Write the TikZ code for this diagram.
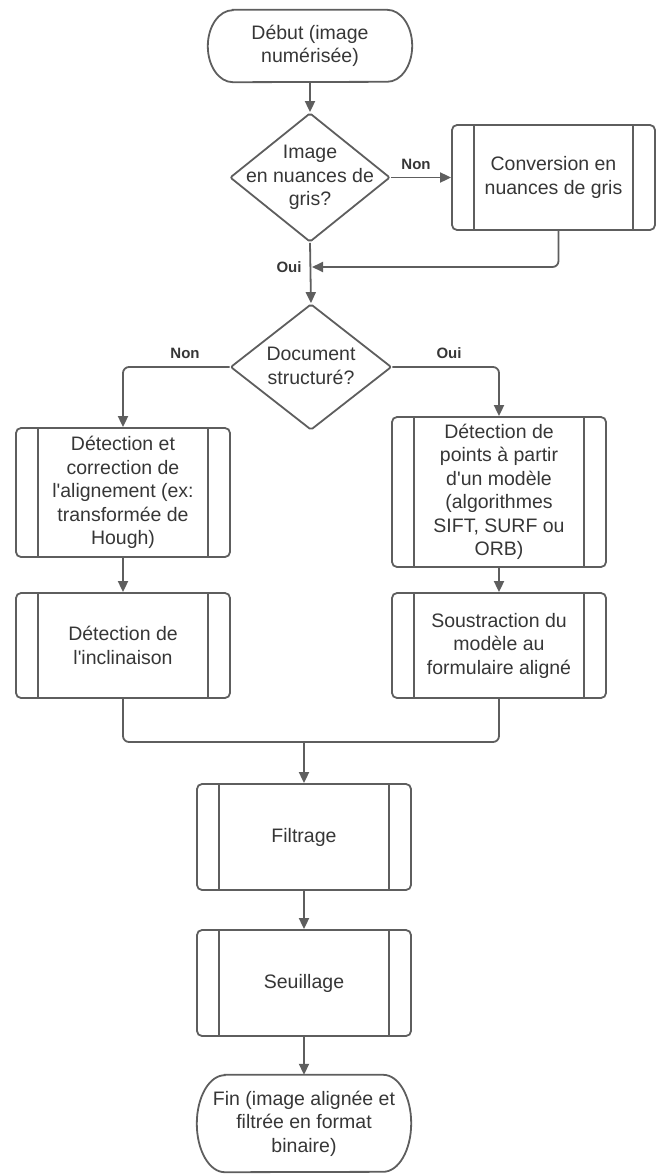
\documentclass[tikz,border=0pt]{standalone}
\usepackage{fontspec}
\setmainfont{Liberation Sans}[Ligatures=TeXOff]
\usetikzlibrary{shapes.geometric,arrows.meta}
\definecolor{linegray}{HTML}{5E5E5E}
\definecolor{txtgray}{HTML}{363636}

\begin{document}
\begin{tikzpicture}[x=1pt,y=1pt,
  every node/.style={inner sep=0pt, text=txtgray, align=center,
    font=\fontsize{19.5}{23.5}\selectfont},
  flow/.style={draw=linegray, line width=1.8pt},
  arr/.style={flow, -{Triangle[length=11pt,width=10pt]}},
  decision/.style={flow, diamond, minimum width=160pt, minimum height=129pt,
    rounded corners=2pt},
  subproc/.style={flow, rounded corners=5pt, minimum width=214pt,
    path picture={
      \draw [linegray, line width=1.8pt]
        ([xshift=22pt]path picture bounding box.north west) --
        ([xshift=22pt]path picture bounding box.south west)
        ([xshift=-22pt]path picture bounding box.north east) --
        ([xshift=-22pt]path picture bounding box.south east);}},
  answer/.style={font=\fontsize{15}{18}\selectfont\bfseries}]
  \useasboundingbox (0,0) rectangle (656,-1175);

  \node [minimum width=204pt, minimum height=72pt] (start) at (310,-46)
    {Début (image\\numérisée)};
  \draw [flow] ([xshift=25]start.north west) -- ([xshift=-25]start.north east)
    arc [start angle=90, end angle=-90, x radius=25, y radius=36]
    -- ([xshift=25]start.south west)
    arc [start angle=270, end angle=90, x radius=25, y radius=36] -- cycle;

  \node [decision] (gray) at (310,-177.5) {};
  \node (graytext) at (310,-177.5) {Image\\en nuances de\\gris?};
  \node [subproc, minimum width=203pt, minimum height=105pt] (conv) at (553.5,-177.5)
    {Conversion en\\nuances de gris};

  \node [decision, minimum width=161pt, minimum height=126pt] (struct) at (311,-367) {};
  \node (structtext) at (311,-366) {Document\\structuré?};

  \node [subproc, minimum height=129pt] (align) at (123,-492.5)
    {Détection et\\correction de\\l'alignement (ex:\\transformée de\\Hough)};
  \node [subproc, minimum height=105pt] (skew) at (123,-645.5)
    {Détection de\\l'inclinaison};
  \node [subproc, minimum height=150pt] (match) at (499,-492)
    {Détection de\\points à partir\\d'un modèle\\(algorithmes\\SIFT, SURF ou\\ORB)};
  \node [subproc, minimum height=105pt] (subtract) at (499,-645.5)
    {Soustraction du\\modèle au\\formulaire aligné};

  \node [subproc, minimum height=106pt] (filter) at (304,-837) {Filtrage};
  \node [subproc, minimum height=106pt] (thresh) at (304,-983) {Seuillage};

  \node [minimum width=214pt, minimum height=97pt] (finish) at (304,-1123.5)
    {Fin (image alignée et\\filtrée en format\\binaire)};
  \draw [flow] ([xshift=28]finish.north west) -- ([xshift=-28]finish.north east)
    arc [start angle=90, end angle=-90, x radius=28, y radius=48.5]
    -- ([xshift=28]finish.south west)
    arc [start angle=270, end angle=90, x radius=28, y radius=48.5] -- cycle;

  \node [answer] (non1) at (416,-164) {Non};
  \node [answer] (oui1) at (289,-267) {Oui};
  \node [answer] (non2) at (185,-353) {Non};
  \node [answer] (oui2) at (449,-353) {Oui};

  \coordinate (back) at (312,-267);
  \coordinate (merge) at (304,-742);

  \draw [arr] (start.south) -- (gray.north);
  \draw [arr] (gray.east) -- (conv.west);
  \draw [arr, rounded corners=6pt] ([xshift=5pt]conv.south) |- (back);
  \draw [arr] (gray.south) -- (struct.north);
  \draw [arr, rounded corners=6pt] (struct.west) -| (align.north);
  \draw [arr, rounded corners=6pt] (struct.east) -| (match.north);
  \draw [arr] (align) -- (skew);
  \draw [arr] (match) -- (subtract);
  \draw [flow, rounded corners=6pt] (skew.south) |- (merge) -| (subtract.south);
  \draw [arr] (merge) -- (filter.north);
  \draw [arr] (filter) -- (thresh);
  \draw [arr] (thresh) -- (finish.north);
\end{tikzpicture}
\end{document}
